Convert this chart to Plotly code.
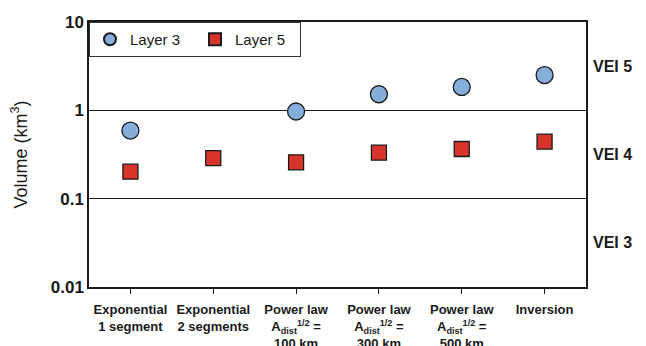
import math
import plotly.graph_objects as go

categories = [
    "Exponential<br>1 segment",
    "Exponential<br>2 segments",
    "Power law<br>A<sub>dist</sub><sup>1/2</sup> =<br>100 km",
    "Power law<br>A<sub>dist</sub><sup>1/2</sup> =<br>300 km",
    "Power law<br>A<sub>dist</sub><sup>1/2</sup> =<br>500 km",
    "Inversion",
]
layer3 = [0.59, None, 0.97, 1.52, 1.84, 2.51]
layer5 = [0.202, 0.288, 0.258, 0.332, 0.365, 0.442]
ytick_vals = [0.01, 0.1, 1, 10]
ytick_text = ["0.01", "0.1", "1", "10"]
vei_labels = ["VEI 5", "VEI 4", "VEI 3"]
vei_pos = [3.162, 0.3162, 0.03162]

FONT = "Liberation Sans, Arial, Helvetica, sans-serif"
xidx = list(range(len(categories)))

fig = go.Figure()
fig.add_trace(go.Scatter(
    x=xidx, y=layer3, mode="markers", name="Layer 3",
    marker=dict(symbol="circle", size=17, color="#85aedb",
                line=dict(color="#1a1a1a", width=1.3)),
))
fig.add_trace(go.Scatter(
    x=xidx, y=layer5, mode="markers", name="Layer 5",
    marker=dict(symbol="square", size=15, color="#d9342b",
                line=dict(color="#1a1a1a", width=1.3)),
))

for lab, pos in zip(vei_labels, vei_pos):
    fig.add_annotation(
        x=1, xref="paper", xanchor="left", xshift=5,
        y=math.log10(pos), yref="y", text="<b>" + lab + "</b>", showarrow=False,
        font=dict(family=FONT, size=16, color="#1a1a1a"),
    )

# page body has an 8px default margin, so the figure is sized to fit the window
fig.update_layout(
    width=638, height=338,
    margin=dict(l=81, r=60, t=14, b=59),
    paper_bgcolor="white", plot_bgcolor="white",
    font=dict(family=FONT, color="#1a1a1a"),
    showlegend=True,
    legend=dict(
        x=0, y=1, xanchor="left", yanchor="top",
        orientation="h",
        bordercolor="#333333", borderwidth=1, bgcolor="white",
        font=dict(family=FONT, size=15, color="#1a1a1a"),
        itemsizing="constant",
        itemwidth=30, entrywidth=60,
        tracegroupgap=0,
    ),
    xaxis=dict(
        range=[-0.5, 5.5], automargin=False,
        tickmode="array", tickvals=xidx,
        ticktext=["<b>" + c + "</b>" for c in categories],
        tickfont=dict(family=FONT, size=13, color="#1a1a1a"),
        ticks="outside", ticklen=5, tickcolor="#1a1a1a",
        ticklabelstandoff=5,
        showline=True, linecolor="#1a1a1a", linewidth=1.5, mirror=True,
        showgrid=False, zeroline=False,
    ),
    yaxis=dict(
        type="log", range=[-2, 1], automargin=False,
        tickmode="array", tickvals=ytick_vals,
        ticktext=["<b>" + t + "</b>" for t in ytick_text],
        tickfont=dict(family=FONT, size=17, color="#1a1a1a"),
        ticks="", showline=True, linecolor="#1a1a1a", linewidth=1.5, mirror=True,
        showgrid=True, gridcolor="#1a1a1a", gridwidth=1.2,
        zeroline=False,
        title=dict(text="Volume (km<sup>3</sup>)",
                   font=dict(family=FONT, size=18, color="#1a1a1a"),
                   standoff=20),
    ),
)

fig.write_html("out.html")
